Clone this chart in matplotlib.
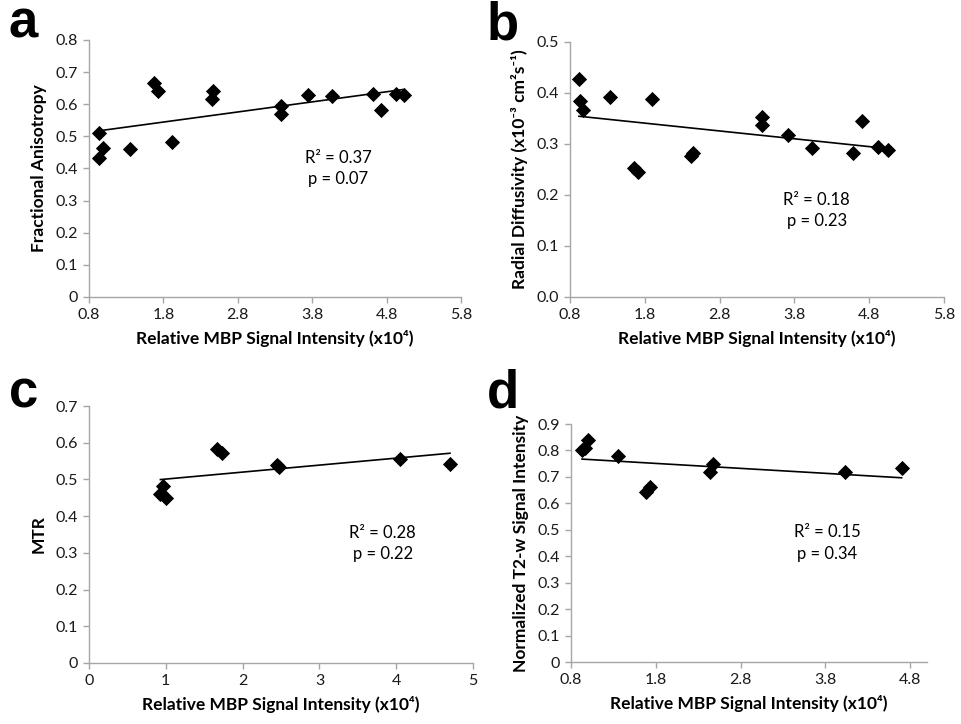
import numpy as np
import matplotlib
matplotlib.use("Agg")
import matplotlib.pyplot as plt

plt.rcParams['font.family'] = ['Lato', 'DejaVu Sans']

# ---- data ----
fa_x = [0.94, 0.99, 0.93, 1.35, 1.67, 1.73, 1.91, 2.46, 2.45, 3.38, 3.38, 3.75, 4.06, 4.62, 4.73, 4.93, 5.03]
fa_y = [0.509, 0.465, 0.432, 0.462, 0.666, 0.640, 0.483, 0.641, 0.617, 0.594, 0.571, 0.630, 0.625, 0.633, 0.583, 0.633, 0.630]

rd_x = [0.92, 0.93, 0.97, 1.33, 1.90, 1.66, 1.71, 2.44, 2.42, 3.37, 3.37, 3.72, 4.04, 4.59, 4.70, 4.92, 5.05]
rd_y = [0.428, 0.384, 0.367, 0.393, 0.389, 0.253, 0.246, 0.282, 0.276, 0.352, 0.337, 0.317, 0.293, 0.282, 0.346, 0.295, 0.288]

mtr_x = [0.96, 0.93, 1.00, 1.67, 1.73, 2.45, 2.47, 4.05, 4.70]
mtr_y = [0.482, 0.459, 0.450, 0.582, 0.571, 0.539, 0.535, 0.557, 0.542]

t2_x = [0.93, 0.97, 1.00, 1.35, 1.68, 1.73, 2.44, 2.47, 4.03, 4.70]
t2_y = [0.800, 0.810, 0.840, 0.779, 0.644, 0.660, 0.717, 0.749, 0.717, 0.732]

stats_a = ["R\u00b2 = 0.37", "p = 0.07"]
stats_b = ["R\u00b2 = 0.18", "p = 0.23"]
stats_c = ["R\u00b2 = 0.28", "p = 0.22"]
stats_d = ["R\u00b2 = 0.15", "p = 0.34"]

xlabel = "Relative MBP Signal Intensity (x10\u2074)"

W, H = 962, 724
fig = plt.figure(figsize=(W / 100, H / 100), dpi=100)

def ax_at(l, r, t, b):
    return fig.add_axes([l / W, 1 - b / H, (r - l) / W, (b - t) / H])

gray = '#a6a6a6'

def style(ax):
    for s in ['top', 'right']:
        ax.spines[s].set_visible(False)
    for s in ['left', 'bottom']:
        ax.spines[s].set_color(gray)
        ax.spines[s].set_linewidth(1.0)
    ax.tick_params(axis='both', direction='out', length=4, width=1.0, color=gray,
                   labelsize=11.5, labelcolor='#1a1a1a', pad=4)

def panel(ax, x, y, xlim, xticks, xticklabels, ylim, yticks, yticklabels, ylabel, stats, stxy, letter, letxy):
    style(ax)
    ax.scatter(x, y, marker='D', s=60, color='black', zorder=3, linewidths=0)
    k, c0 = np.polyfit(x, y, 1)
    xx = np.array([min(x), max(x)])
    ax.plot(xx, k * xx + c0, color='black', lw=1.2, zorder=2)
    ax.set_xlim(*xlim)
    ax.set_ylim(*ylim)
    ax.set_xticks(xticks)
    ax.set_xticklabels(xticklabels)
    ax.set_yticks(yticks)
    ax.set_yticklabels(yticklabels)
    ax.set_xlabel(xlabel, fontsize=12.5, fontweight='bold', labelpad=6)
    ax.set_ylabel(ylabel, fontsize=12.5, fontweight='bold', labelpad=6)
    ax.text(stxy[0], stxy[1], stats[0] + "\n" + stats[1], transform=ax.transAxes,
            ha='center', va='center', fontsize=12, linespacing=1.4)
    fig.text(letxy[0] / W, 1 - letxy[1] / H, letter, fontsize=38, fontweight='bold',
             family='Liberation Sans', ha='left', va='baseline')

# panel a
axa = ax_at(89, 461, 40, 297)
ticks_a = [0.8, 1.8, 2.8, 3.8, 4.8, 5.8]
yt_a = [0, 0.1, 0.2, 0.3, 0.4, 0.5, 0.6, 0.7, 0.8]
panel(axa, fa_x, fa_y, (0.8, 5.8), ticks_a, [f"{t:.1f}" for t in ticks_a],
      (0, 0.8), yt_a, ["0"] + [f"{t:.1f}" for t in yt_a[1:]],
      "Fractional Anisotropy", stats_a, (0.67, 0.5), "a", (9, 38))

# panel b
axb = ax_at(570, 944, 42, 297)
yt_b = [0, 0.1, 0.2, 0.3, 0.4, 0.5]
panel(axb, rd_x, rd_y, (0.8, 5.8), ticks_a, [f"{t:.1f}" for t in ticks_a],
      (0, 0.5), yt_b, [f"{t:.1f}" for t in yt_b],
      "Radial Diffusivity (x10\u207b\u00b3 cm\u00b2s\u207b\u00b9)", stats_b, (0.66, 0.34), "b", (487, 39))

# panel c
axc = ax_at(89, 473, 406, 663)
xt_c = [0, 1, 2, 3, 4, 5]
yt_c = [0, 0.1, 0.2, 0.3, 0.4, 0.5, 0.6, 0.7]
panel(axc, mtr_x, mtr_y, (0, 5), xt_c, [str(t) for t in xt_c],
      (0, 0.7), yt_c, ["0"] + [f"{t:.1f}" for t in yt_c[1:]],
      "MTR", stats_c, (0.765, 0.465), "c", (9, 408))

# panel d
axd = ax_at(571, 927, 424, 662)
xt_d = [0.8, 1.8, 2.8, 3.8, 4.8]
yt_d = [0, 0.1, 0.2, 0.3, 0.4, 0.5, 0.6, 0.7, 0.8, 0.9]
panel(axd, t2_x, t2_y, (0.8, 5.0), xt_d, [f"{t:.1f}" for t in xt_d],
      (0, 0.9), yt_d, ["0"] + [f"{t:.1f}" for t in yt_d[1:]],
      "Normalized T2-w Signal Intensity", stats_d, (0.72, 0.5), "d", (487, 408))

fig.savefig("out.png", dpi=100, facecolor='white')
